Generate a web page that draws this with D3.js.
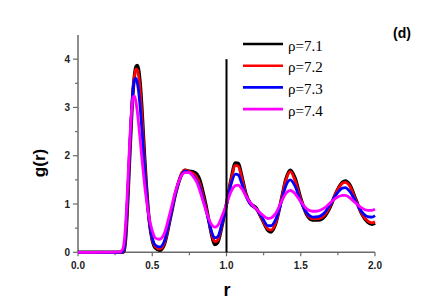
<!DOCTYPE html>
<html><head><meta charset="utf-8">
<script src="https://cdn.jsdelivr.net/npm/d3@7"></script>
<style>body{margin:0;background:#fff}svg{display:block}
.sans{font-family:"Liberation Sans",Arial,sans-serif;font-weight:bold}
</style>
</head><body>
<script>
const rGrid = [0,0.28,0.30,0.31,0.32,0.33,0.34,0.35,0.36,0.37,
0.38,0.39,0.40,0.41,0.42,0.43,0.44,0.45,0.46,0.47,
0.48,0.50,0.52,0.55,0.58,0.62,0.66,0.70,0.72,0.75,
0.78,0.80,0.82,0.84,0.86,0.88,0.90,0.92,0.94,0.97,
1.00,1.03,1.06,1.08,1.10,1.13,1.16,1.20,1.24,1.28,
1.30,1.33,1.37,1.40,1.43,1.46,1.50,1.54,1.58,1.62,
1.66,1.70,1.74,1.78,1.80,1.83,1.87,1.91,1.95,1.98,2.00];

const g71 = [0,0,0,0.03,0.25,0.75,1.4,2.1,2.75,3.3,
3.65,3.84,3.87,3.75,3.45,3.0,2.45,1.9,1.4,0.98,
0.65,0.25,0.09,0.04,0.15,0.68,1.25,1.62,1.7,1.68,
1.66,1.62,1.5,1.27,1.0,0.68,0.36,0.16,0.2,0.55,
1.0,1.5,1.85,1.84,1.62,1.22,1.02,0.92,0.68,0.45,
0.42,0.58,1.1,1.52,1.7,1.55,1.12,0.78,0.67,0.67,
0.74,0.95,1.25,1.45,1.48,1.4,1.1,0.8,0.63,0.58,0.6];

const g72 = [0,0,0,0.05,0.3,0.85,1.5,2.2,2.85,3.35,
3.65,3.8,3.78,3.62,3.3,2.85,2.32,1.8,1.33,0.95,
0.65,0.27,0.12,0.07,0.17,0.7,1.27,1.65,1.7,1.67,
1.62,1.55,1.42,1.2,0.95,0.66,0.38,0.22,0.25,0.58,
1.0,1.48,1.8,1.78,1.58,1.2,1.0,0.9,0.68,0.48,
0.46,0.6,1.1,1.5,1.67,1.5,1.1,0.8,0.7,0.7,
0.77,0.97,1.25,1.43,1.45,1.37,1.08,0.8,0.65,0.61,0.63];

const g73 = [0,0,0.01,0.07,0.38,0.95,1.6,2.3,2.9,3.35,
3.57,3.6,3.5,3.28,2.95,2.55,2.1,1.65,1.25,0.92,
0.65,0.3,0.15,0.11,0.22,0.72,1.27,1.62,1.68,1.65,
1.57,1.48,1.35,1.13,0.9,0.65,0.42,0.3,0.32,0.6,
0.98,1.4,1.62,1.6,1.45,1.17,1.0,0.9,0.72,0.55,
0.55,0.67,1.05,1.38,1.5,1.38,1.05,0.82,0.73,0.74,
0.82,1.0,1.2,1.33,1.34,1.26,1.05,0.84,0.74,0.73,0.76];

const g74 = [0,0.01,0.06,0.2,0.55,1.1,1.75,2.4,2.9,3.2,
3.24,3.12,2.9,2.6,2.28,1.95,1.65,1.35,1.1,0.88,
0.7,0.45,0.3,0.27,0.38,0.82,1.3,1.6,1.65,1.65,
1.55,1.45,1.28,1.08,0.88,0.7,0.57,0.52,0.55,0.75,
1.0,1.25,1.38,1.39,1.33,1.17,1.03,0.9,0.78,0.7,
0.71,0.8,1.05,1.22,1.28,1.22,1.05,0.9,0.85,0.86,
0.92,1.03,1.13,1.18,1.18,1.13,1.02,0.92,0.87,0.87,0.89];

const seriesNames = ["ρ=7.1","ρ=7.2","ρ=7.3","ρ=7.4"];
const seriesColors = ["#000000","#ff0000","#0000ff","#ff00ff"];
const seriesValues = [g71,g72,g73,g74];
const xTicks = [0,0.5,1.0,1.5,2.0];
const xTickLabels = ["0.0","0.5","1.0","1.5","2.0"];
const yTicks = [0,1,2,3,4];
const markerR = 1.0, markerTop = 4;

const W=436,H=303;
const svg=d3.select("body").append("svg").attr("width",W).attr("height",H);
const x=d3.scaleLinear().domain([0,2]).range([78,375]);
const y=d3.scaleLinear().domain([0,4.5]).range([252.3,35]);
const axisCol="#6a6a6a";

// x axis
const gx=svg.append("g").attr("transform","translate(0,252.3)");
gx.append("line").attr("x1",x(0)).attr("x2",x(2)).attr("stroke",axisCol).attr("stroke-width",1.5);
d3.range(0,2.001,0.25).forEach(v=>{
  const major=Math.abs(v*2-Math.round(v*2))<1e-6;
  gx.append("line").attr("x1",x(v)).attr("x2",x(v)).attr("y1",0).attr("y2",major?4:3)
    .attr("stroke",axisCol).attr("stroke-width",1.2);
});
xTicks.forEach((v,i)=>{
  gx.append("text").attr("class","sans").attr("x",x(v)).attr("y",17).attr("text-anchor","middle")
    .attr("font-size",10).attr("fill","#222").text(xTickLabels[i]);
});
// y axis
const gy=svg.append("g").attr("transform","translate(78,0)");
gy.append("line").attr("y1",y(0)).attr("y2",y(4.5)).attr("stroke",axisCol).attr("stroke-width",1.5);
d3.range(0,4.001,0.5).forEach(v=>{
  const major=Math.abs(v-Math.round(v))<1e-6;
  gy.append("line").attr("y1",y(v)).attr("y2",y(v)).attr("x1",0).attr("x2",major?-5:-3)
    .attr("stroke",axisCol).attr("stroke-width",1.2);
});
yTicks.forEach(v=>{
  gy.append("text").attr("class","sans").attr("x",-8).attr("y",y(v)+3.5).attr("text-anchor","end")
    .attr("font-size",10).attr("fill","#222").text(v);
});

// axis titles
svg.append("text").attr("class","sans").attr("transform","translate(45,163) rotate(-90)").attr("text-anchor","middle")
  .attr("font-size",17).text("g(r)");
svg.append("text").attr("class","sans").attr("x",227).attr("y",296).attr("text-anchor","middle")
  .attr("font-size",18).text("r");

// curves
const line=d3.line().x(d=>x(d[0])).y(d=>y(d[1])).curve(d3.curveMonotoneX);
seriesValues.forEach((vals,i)=>{
  const data=rGrid.map((r,k)=>[r,vals[k]]);
  svg.append("path").datum(data).attr("d",line).attr("fill","none")
    .attr("stroke",seriesColors[i]).attr("stroke-width",i===0?3.4:2.8)
    .attr("stroke-linejoin","round");
});

// vertical marker line
svg.append("line").attr("x1",x(markerR)).attr("x2",x(markerR)).attr("y1",y(0)).attr("y2",y(markerTop))
  .attr("stroke","#000").attr("stroke-width",2);

// legend
seriesNames.forEach((n,i)=>{
  const yy=44+i*21.7;
  svg.append("line").attr("x1",243).attr("x2",283).attr("y1",yy).attr("y2",yy)
    .attr("stroke",seriesColors[i]).attr("stroke-width",2.6);
  svg.append("text").attr("x",288).attr("y",yy+6.5)
    .attr("style","font-family:'Times New Roman','Liberation Serif','DejaVu Serif',serif;font-size:15px;font-weight:normal")
    .text(n);
});
svg.append("text").attr("class","sans").attr("x",402).attr("y",38).attr("text-anchor","middle")
  .attr("font-size",14).text("(d)");
</script>
</body></html>
